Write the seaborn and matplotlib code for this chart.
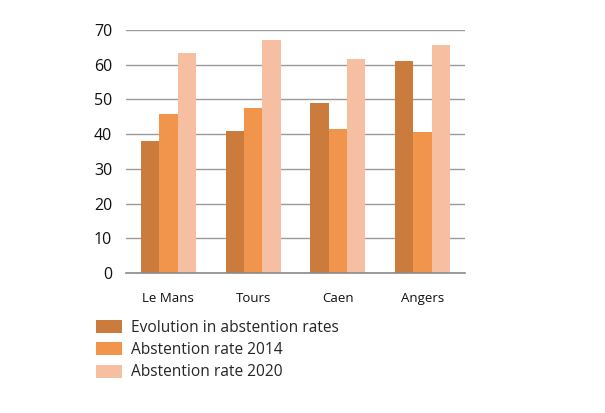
import matplotlib
matplotlib.use('Agg')
import matplotlib.pyplot as plt
import pandas as pd
import seaborn as sns
from matplotlib.ticker import FixedLocator

cities = ['Le Mans', 'Tours', 'Caen', 'Angers']
series = ['Evolution in abstention rates', 'Abstention rate 2014', 'Abstention rate 2020']
evolution = [38, 41, 49, 61.2]
rate_2014 = [45.8, 47.6, 41.4, 40.5]
rate_2020 = [63.5, 67.1, 61.6, 65.7]
colors = ['#CB7B3C', '#F0954B', '#F7BFA2']

df = pd.DataFrame({
    'city': cities * 3,
    'series': [s for s in series for _ in cities],
    'value': evolution + rate_2014 + rate_2020,
})

sns.set_style('white')
plt.rcParams['font.family'] = ['Open Sans', 'DejaVu Sans']

W, H = 605, 413
fig = plt.figure(figsize=(W / 100, H / 100), dpi=100)
ax = fig.add_axes([126 / W, 1 - 273 / H, 339 / W, 243 / H])
sns.barplot(data=df, x='city', y='value', hue='series', palette=colors,
            width=0.65, gap=0, saturation=1, linewidth=0, ax=ax, legend=True)

ax.set_ylim(0, 70)
ax.set_xlim(-0.5, 3.5)
ax.set_yticks(range(0, 71, 10))
ax.yaxis.grid(True, color='#9a9a9a', linewidth=1)
ax.set_axisbelow(True)
for s in ['top', 'right', 'left']:
    ax.spines[s].set_visible(False)
ax.spines['bottom'].set_color('#8a8a8a')
ax.spines['bottom'].set_linewidth(1.2)
ax.tick_params(axis='y', length=0, pad=10, labelsize=11.5, labelcolor='#111111')
ax.tick_params(axis='x', which='major', length=0, pad=14, labelsize=9.5, labelcolor='#111111')
ax.xaxis.set_minor_locator(FixedLocator([-0.5, 0.5, 1.5, 2.5, 3.5]))
ax.tick_params(axis='x', which='minor', length=5, color='#8a8a8a', width=1.2, direction='out')
ax.set_xlabel('')
ax.set_ylabel('')

ax.legend(loc='upper left', bbox_to_anchor=(96 / W, 1 - 320 / H), bbox_transform=fig.transFigure,
          frameon=False, fontsize=11.2, handlelength=1.7, handleheight=0.92, labelspacing=0.4,
          handletextpad=0.55, borderaxespad=0, borderpad=0)

fig.savefig('out.png', dpi=100)
